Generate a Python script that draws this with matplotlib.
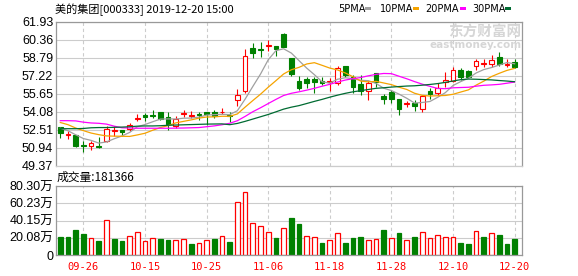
import matplotlib
matplotlib.use('Agg')
import matplotlib.pyplot as plt
from matplotlib.patches import Rectangle
import numpy as np
import pandas as pd

# ---------------- data ----------------
opens = [52.70, 52.03, 52.06, 51.16, 51.05, 51.10, 51.48, 52.38, 52.46, 52.55,
         53.44, 53.79, 53.76, 54.05, 53.62, 52.78, 53.85, 53.73, 53.82, 54.05,
         54.05, 54.00, 53.76, 55.04, 55.87, 59.60, 59.52, 59.81, 59.78, 60.82,
         58.77, 56.77, 56.94, 56.91, 56.71, 56.63, 56.54, 58.04, 57.06, 56.48,
         55.90, 57.41, 55.41, 55.82, 55.15, 54.72, 54.80, 54.34, 55.87, 55.73,
         56.65, 56.77, 57.69, 57.64, 58.07, 58.25, 58.19, 58.79, 58.14, 58.42]
highs = [52.72, 52.41, 52.06, 51.48, 51.48, 51.83, 52.78, 52.78, 52.46, 53.07,
         53.82, 53.94, 54.23, 54.05, 54.05, 53.65, 54.23, 54.14, 54.00, 54.05,
         54.17, 54.37, 54.08, 56.05, 59.52, 60.06, 60.12, 60.29, 59.78, 60.93,
         58.77, 57.17, 57.12, 57.12, 57.06, 56.97, 58.01, 58.04, 57.26, 57.26,
         56.77, 57.46, 55.61, 55.96, 55.15, 55.01, 55.10, 55.53, 56.10, 56.60,
         57.49, 57.93, 57.84, 57.69, 58.62, 58.62, 59.05, 59.28, 58.62, 58.65]
lows = [51.77, 51.68, 50.99, 50.56, 50.76, 50.93, 51.39, 51.92, 51.92, 52.35,
        53.22, 53.22, 53.50, 53.33, 52.49, 52.64, 53.56, 53.50, 53.36, 52.90,
        53.47, 53.82, 53.13, 54.57, 55.67, 58.77, 58.85, 59.37, 58.91, 59.72,
        57.17, 55.96, 56.10, 55.73, 56.37, 55.87, 56.40, 57.12, 55.67, 55.53,
        55.10, 56.25, 54.72, 54.81, 53.77, 54.43, 54.14, 54.08, 55.18, 55.53,
        56.25, 56.68, 56.83, 56.97, 57.69, 57.99, 57.99, 58.04, 57.99, 57.84]
closes = [52.20, 52.08, 51.10, 51.05, 51.37, 51.02, 52.58, 52.50, 52.26, 52.90,
          53.50, 53.56, 53.71, 53.42, 52.98, 53.45, 53.91, 53.79, 53.80, 53.88,
          53.65, 54.05, 53.65, 55.53, 58.91, 59.17, 59.46, 59.87, 59.52, 59.72,
          57.32, 56.16, 56.60, 56.65, 56.60, 56.77, 57.84, 57.26, 56.25, 55.90,
          56.60, 56.63, 55.18, 55.21, 54.34, 54.80, 54.57, 55.41, 55.64, 56.16,
          56.83, 57.69, 57.12, 57.10, 58.45, 58.33, 58.56, 58.22, 58.18, 57.93]
# volume in 万
volumes = [20.9, 20.9, 29.0, 24.3, 19.3, 16.2, 41.3, 18.5, 16.2, 21.6,
           26.2, 16.2, 19.3, 18.5, 17.4, 17.4, 18.1, 12.7, 13.9, 17.0,
           18.5, 21.6, 15.0, 62.1, 73.7, 37.8, 33.2, 26.6, 19.7, 30.9,
           42.8, 35.9, 21.6, 20.5, 13.9, 17.0, 25.1, 13.9, 19.7, 20.9,
           17.0, 18.1, 29.0, 19.3, 25.5, 17.0, 20.9, 26.2, 19.3, 22.8,
           20.5, 20.5, 13.9, 12.7, 27.4, 20.9, 25.1, 23.2, 12.7, 18.14]
# moving-average values before enough closes are visible
ma5_head = [52.62, 52.40, 52.05, 51.72]
ma10_head = [53.12, 52.93, 52.64, 52.41, 52.20, 52.06, 51.95, 51.93, 51.92]
ma20_head = [53.28, 53.28, 53.26, 53.15, 53.08, 53.05, 52.98, 52.80, 52.66, 52.64,
             52.62, 52.62, 52.62, 52.62, 52.62, 52.63, 52.64, 52.66, 52.68]
ma30_head = [52.58, 52.58, 52.58, 52.60, 52.66, 52.68, 52.68, 52.70, 52.72, 52.75,
             52.80, 52.82, 52.82, 52.84, 52.88, 52.90, 52.92, 52.94, 52.96, 52.98,
             52.99, 53.00, 52.93, 53.04, 53.22, 53.42, 53.62, 53.82, 54.05]
tick_labels = ['09-26', '10-15', '10-25', '11-06', '11-18', '11-28', '12-10', '12-20']
price_ticks = [49.37, 50.94, 52.51, 54.08, 55.65, 57.22, 58.79, 60.36, 61.93]
vol_ticks = [0, 20.08, 40.15, 60.23, 80.30]
title = '美的集团[000333] 2019-12-20 15:00'
last_volume = '181366'

# ---------------- figure ----------------
W, H = 578, 276
fig = plt.figure(figsize=(W / 100, H / 100), dpi=100)


def rect(l, t, r, b):
    return [l / W, 1 - b / H, (r - l) / W, (b - t) / H]


ax = fig.add_axes(rect(56, 21.5, 522.3, 165.5))
axv = fig.add_axes(rect(56, 186, 522.3, 255))

n = len(closes)
x = np.arange(n)
o = np.array(opens); c = np.array(closes)
hi = np.array(highs); lo = np.array(lows)
RED, GREEN = '#ff0000', '#008000'

up = c >= o
cols = np.where(up, RED, GREEN)
body_b = np.minimum(o, c)
body_h = np.maximum(np.abs(c - o), 0.02)

ax.vlines(x, lo, hi, colors=cols, lw=0.8, zorder=2)
ax.bar(x, body_h, bottom=body_b, width=0.62,
       facecolor=np.where(up, 'white', GREEN), edgecolor=cols, lw=0.8, zorder=2.5)

s = pd.Series(closes)


def ma(k, head):
    m = s.rolling(k).mean().to_numpy()
    m[:len(head)] = head
    return m


ma_cols = ['#a0a0a0', '#f5a300', '#ff00ff', '#006b32']
for k, head, col in zip([5, 10, 20, 30], [ma5_head, ma10_head, ma20_head, ma30_head], ma_cols):
    ax.plot(x, ma(k, head), color=col, lw=0.9, zorder=3)

# volume
prev = np.concatenate([[o[0]], c[:-1]])
vup = c > prev
vcols = np.where(vup, RED, GREEN)
axv.bar(x, volumes, width=0.62, facecolor=np.where(vup, 'white', GREEN),
        edgecolor=vcols, lw=0.9, zorder=2)

tick_idx = [3 + 8 * i for i in range(len(tick_labels))]
label_font = dict(family=['Liberation Sans', 'Noto Sans CJK SC'], size=9)

for a in (ax, axv):
    a.set_xlim(-0.56, 60.0)
    a.set_xticks(tick_idx)
    a.grid(axis='x', color='#cccccc', lw=0.8, ls=(0, (3, 2.5)))
    a.grid(axis='y', color='#cccccc', lw=0.8, ls='-')
    a.set_axisbelow(True)
    a.tick_params(length=0)
    for sp in a.spines.values():
        sp.set_color('#999999')
        sp.set_linewidth(0.9)

ax.set_ylim(price_ticks[0], price_ticks[-1])
ax.set_yticks(price_ticks, labels=[f'{v:.2f}' for v in price_ticks], **label_font)
ax.set_xticklabels([])
ax.spines['bottom'].set_color('#cccccc')
ax.tick_params(axis='y', pad=2)

axv.set_ylim(vol_ticks[0], vol_ticks[-1])
axv.set_yticks(vol_ticks, labels=['0'] + [f'{v:.2f}万' for v in vol_ticks[1:]], **label_font)
axv.tick_params(axis='y', pad=2)
axv.set_xticklabels(tick_labels, family='DejaVu Sans Mono', size=7.5, color=RED)
axv.tick_params(axis='x', pad=5)

# titles / legend
fig.text(55 / W, 1 - 9.5 / H, title, family=['Noto Sans CJK SC', 'DejaVu Sans'],
         size=8, va='center', ha='left')
fig.text(57 / W, 1 - 177 / H, '成交量:' + last_volume, family=['Noto Sans CJK SC', 'DejaVu Sans'],
         size=8.5, va='center', ha='left')

leg_names = ['5PMA', '10PMA', '20PMA', '30PMA']
leg_x = [338, 380, 425, 472]
sq_x = [365, 413, 460, 505]
for name, lx, sx, col in zip(leg_names, leg_x, sq_x, ma_cols):
    fig.text(lx / W, 1 - 8.5 / H, name, family='DejaVu Sans', size=7, va='center', ha='left')
    fig.add_artist(Rectangle((sx / W, 1 - 10 / H), 5.5 / W, 2.8 / H,
                             transform=fig.transFigure, color=col, lw=0))

# watermark
ax.text(0.998, 0.93, '东方财富网', transform=ax.transAxes, family='Noto Sans CJK SC',
        weight='bold', size=10.5, color='#d6d6d6', ha='right', va='center', zorder=1)
ax.text(0.998, 0.84, 'eastmoney.com', transform=ax.transAxes, family='DejaVu Sans',
        weight='bold', size=7.5, color='#d6d6d6', ha='right', va='center', zorder=1)

fig.savefig('out.png', dpi=100)
